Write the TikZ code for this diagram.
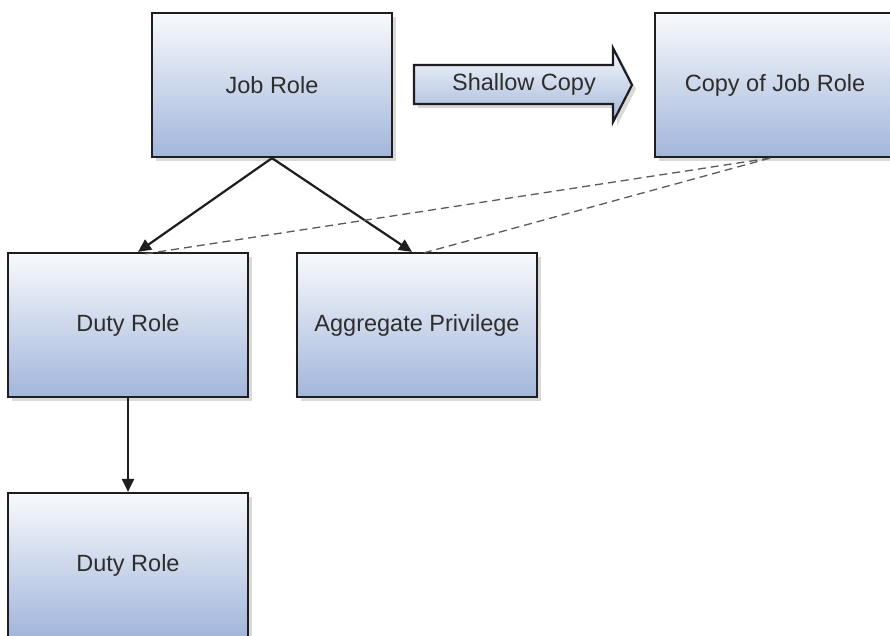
\documentclass[tikz,border=0pt]{standalone}
\usepackage{fontspec}
\setmainfont{Liberation Sans}
\usetikzlibrary{shadows,arrows.meta}
\definecolor{boxtop}{RGB}{248,249,252}
\definecolor{boxbot}{RGB}{162,182,218}
\definecolor{boxline}{RGB}{30,30,30}
\definecolor{txt}{RGB}{45,45,45}
\definecolor{dashc}{RGB}{90,90,90}
\tikzset{
  rolebox/.style={rectangle, draw=boxline, line width=2.2pt, top color=boxtop, bottom color=boxbot,
    minimum width=240pt, minimum height=144pt, inner sep=0pt, text=txt,
    font=\fontsize{23.5}{28}\selectfont,
    drop shadow={shadow xshift=4pt, shadow yshift=-4pt, fill=black, opacity=0.15}},
  arrowshape/.style={draw=boxline, line width=2.2pt, top color=boxtop, bottom color=boxbot,
    drop shadow={shadow xshift=4pt, shadow yshift=-4pt, fill=black, opacity=0.15}},
  lbl/.style={text=txt, font=\fontsize{23.5}{28}\selectfont, inner sep=0pt},
  link/.style={draw=boxline, line width=2.2pt, -{Triangle[length=13pt,width=12pt]}},
  copylink/.style={draw=dashc, line width=1.3pt, dash pattern=on 8pt off 5pt},
}
\begin{document}
\begin{tikzpicture}[x=1pt,y=-1pt]
\clip (0,0) rectangle (890,635);
\fill[white] (0,0) rectangle (890,635);
\node[rolebox] (jr) at (272,85) {Job Role};
\node[rolebox] (cj) at (775,85) {Copy of Job Role};
\node[rolebox] (dr1) at (128,325) {Duty Role};
\node[rolebox] (ap) at (417,325) {Aggregate Privilege};
\node[rolebox] (dr2) at (128,565) {Duty Role};
% shallow copy arrow
\path[arrowshape] (414,65) -- (613,65) -- (613,48) -- (632,85) -- (613,122) -- (613,104) -- (414,104) -- cycle;
\node[lbl] (sc) at (524,84) {Shallow Copy};
% connectors
\draw[link] (jr.south) -- ([xshift=10pt]dr1.north);
\draw[link] (jr.south) -- ([xshift=-5pt]ap.north);
\draw[link] (dr1.south) -- (dr2.north);
\draw[copylink] ([xshift=-5pt]cj.south) -- ([xshift=17pt,yshift=-2pt]dr1.north);
\draw[copylink] ([xshift=-5pt]cj.south) -- ([xshift=3pt,yshift=-2pt]ap.north);
\end{tikzpicture}
\end{document}
